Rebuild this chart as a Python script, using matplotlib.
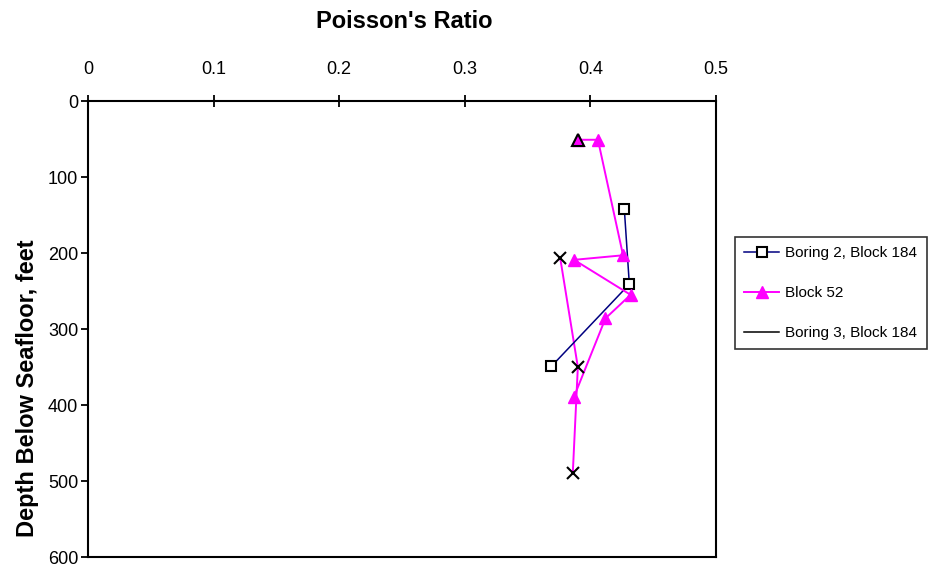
import matplotlib.pyplot as plt

plt.rcParams['font.family'] = ['Liberation Sans', 'DejaVu Sans']

# Poisson's ratio against depth for each boring / block
boring2_ratio = [0.427, 0.431, 0.369]
boring2_depth = [142, 241, 349]

block52_ratio = [0.390, 0.406, 0.426, 0.387, 0.432, 0.412, 0.387]
block52_depth = [51, 51, 203, 209, 255, 286, 389]

boring3_ratio = [0.376, 0.390, 0.386]
boring3_depth = [207, 350, 489]

x_ticks = [0, 0.1, 0.2, 0.3, 0.4, 0.5]
x_labels = ['0', '0.1', '0.2', '0.3', '0.4', '0.5']
y_ticks = [0, 100, 200, 300, 400, 500, 600]

fig = plt.figure(figsize=(9.3, 5.67), dpi=100)
ax = fig.add_axes([88 / 930, 1 - 557 / 567, (716 - 88) / 930, (557 - 101) / 567])

ax.plot(boring2_ratio, boring2_depth, color='#000080', lw=1.1, marker='s',
        ms=7, mfc='white', mec='black', mew=1.5, label='Boring 2, Block 184', zorder=3)
ax.plot(block52_ratio, block52_depth, color='#ff00ff', lw=1.4, marker='^',
        ms=8, mfc='#ff00ff', mec='#ff00ff', label='Block 52', zorder=3)
# first Block 52 sample is outlined in black
ax.plot(block52_ratio[:1], block52_depth[:1], ls='none', marker='^', ms=8,
        mfc='#ff00ff', mec='black', mew=1.5, zorder=4)
ax.plot(boring3_ratio, boring3_depth, color='#ff00ff', lw=1.4, zorder=2)
ax.plot(boring3_ratio, boring3_depth, ls='none', marker='x', ms=9, mec='black',
        mew=1.5, zorder=4)
# legend handle for Boring 3
ax.plot([], [], color='black', lw=1.1, label='Boring 3, Block 184')

ax.set_xlim(0, 0.5)
ax.set_ylim(600, 0)
ax.xaxis.tick_top()
ax.set_xticks(x_ticks)
ax.set_xticklabels(x_labels)
ax.set_yticks(y_ticks)
ax.tick_params(axis='x', direction='inout', length=9, width=1.3, pad=12, labelsize=13)
ax.tick_params(axis='y', direction='out', length=5, width=1.3, pad=2, labelsize=13)
for s in ax.spines.values():
    s.set_linewidth(1.5)
    s.set_color('black')

fig.text(404 / 930, 1 - 22 / 567, "Poisson's Ratio", ha='center', va='center',
         fontsize=17, fontweight='bold')
fig.text(28 / 930, 1 - 388 / 567, 'Depth Below Seafloor, feet', ha='center',
         va='center', rotation=90, fontsize=17, fontweight='bold')

leg = ax.legend(loc='upper left', bbox_to_anchor=(735 / 930, 1 - 237 / 567),
                bbox_transform=fig.transFigure, fontsize=11, frameon=True,
                fancybox=False, edgecolor='black', borderaxespad=0,
                handlelength=2.3, handletextpad=0.4, labelspacing=1.7,
                borderpad=0.6)
leg.get_frame().set_linewidth(1.2)

fig.savefig('out.png', dpi=100)
